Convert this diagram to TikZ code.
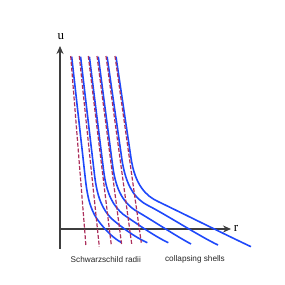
\documentclass[tikz,border=0pt]{standalone}
\usepackage{fontspec}
\setmainfont{Liberation Serif}
\setsansfont{Liberation Sans}
\usetikzlibrary{arrows.meta}
\definecolor{shellblue}{RGB}{30,72,250}
\definecolor{sradred}{RGB}{172,48,92}
\definecolor{axisgray}{RGB}{62,62,62}
\tikzset{
  axisline/.style={draw=axisgray, line width=1.5pt,
                   -{Stealth[length=8pt,width=7pt]}},
  shell/.style={draw=shellblue, line width=1.6pt},
  srad/.style={draw=sradred, line width=1.2pt, dash pattern=on 4pt off 1.8pt},
  axlab/.style={font=\fontsize{13}{13}\selectfont, inner sep=0pt},
  bottomlab/.style={font=\sffamily\fontsize{8.2}{9}\selectfont,
                    text=black!85, inner sep=0pt},
}
\begin{document}
\begin{tikzpicture}[x=1pt,y=-1pt]
  \path[use as bounding box] (0,0) rectangle (285,285);

  % axes
  \coordinate (O) at (60,229);
  \coordinate (ubot) at (60,248.5);
  \coordinate (utop) at (60,46);
  \coordinate (rend) at (231,229);
  \draw[axisline] (ubot) -- (utop);
  \draw[axisline] (O) -- (rend);
  \node[axlab] (ulab) at (61,36.5) {u};
  \node[axlab] (rlab) at (236,228.5) {r};

  % collapsing shells
  \draw[shell] (71.7,56.7) -- (85.5,180)
    .. controls (88,202) and (92,213) .. (100,223)
    .. controls (106,230.5) and (113,238) .. (121.7,242.7);
  \draw[shell] (80.6,56.7) -- (94.6,175.6)
    .. controls (97.4,198.6) and (102.8,209.6) .. (111.6,218.7)
    .. controls (121.8,227.3) and (134.6,237) .. (147.3,242.7);
  \draw[shell] (89.4,56.7) -- (103.7,171.2)
    .. controls (106.8,195.2) and (113.6,206.2) .. (123.2,214.4)
    .. controls (137.6,224.1) and (154.1,236) .. (168.3,242.7);
  \draw[shell] (98.3,56.7) -- (112.8,166.8)
    .. controls (116.2,191.8) and (124.4,202.8) .. (134.8,210.1)
    .. controls (153.4,220.9) and (174.3,235) .. (191,244);
  \draw[shell] (107.1,56.7) -- (122,160)
    .. controls (126,186) and (135,199) .. (148,205.5)
    .. controls (165,214) and (200,236.5) .. (218,245);
  \draw[shell] (116,56.7) -- (131,158)
    .. controls (135,185) and (146,196) .. (158,201.5)
    .. controls (185,214.5) and (222,233) .. (251,246.7);

  % Schwarzschild radii
  \draw[srad] (70.7,56) -- (86,246.7);
  \draw[srad] (79.3,56) -- (99.3,246.7);
  \draw[srad] (88.3,56) -- (111.3,245);
  \draw[srad] (97,56) -- (121.7,245);
  \draw[srad] (106,56) -- (131.7,244);
  \draw[srad] (115,56) -- (141.3,242.7);

  \node[bottomlab] (schw) at (105.8,259.3) {Schwarzschild radii};
  \node[bottomlab] (shells) at (195,259.3) {collapsing shells};
\end{tikzpicture}
\end{document}
